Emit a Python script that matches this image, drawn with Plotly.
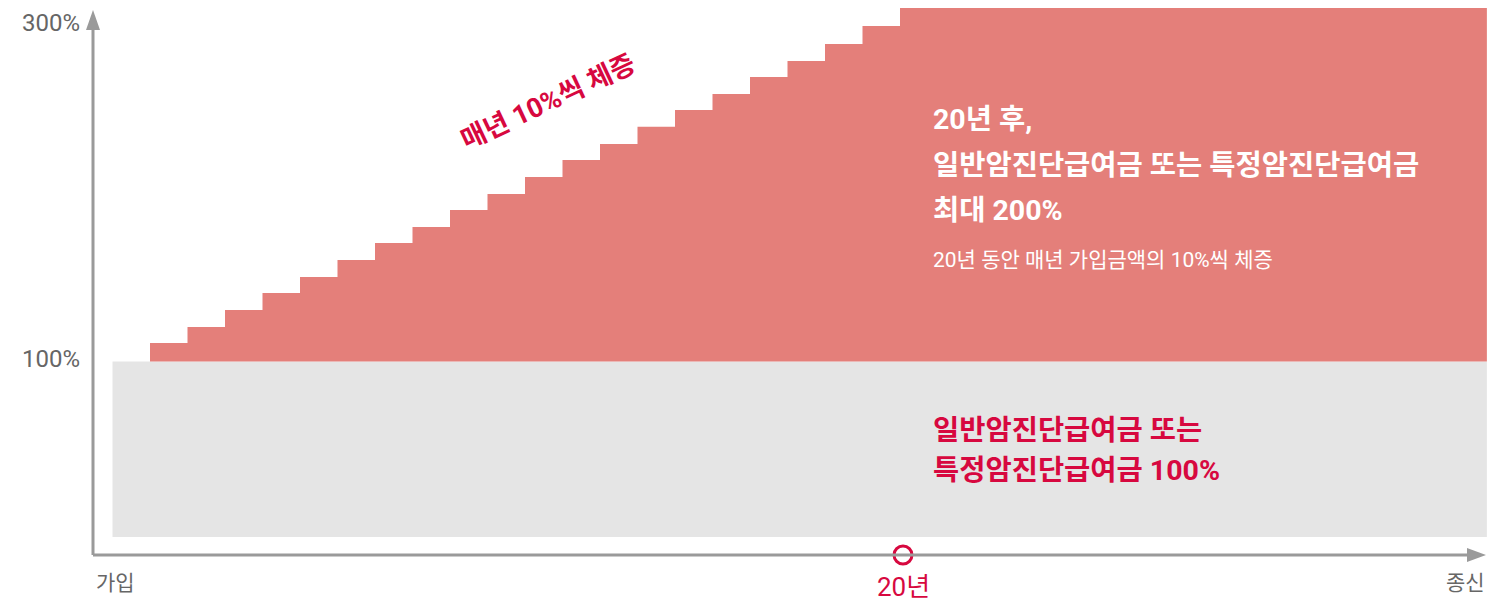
import plotly.graph_objects as go

# ---- data (x in years from first step, y in % of 가입금액) ----
step_years = list(range(0, 21))
step_values = [110.4, 119.4, 129.0, 138.5, 147.5, 157.1, 166.7, 175.7, 185.2, 194.2,
               203.8, 213.4, 222.4, 232.0, 241.5, 250.5, 260.1, 269.1, 278.6, 288.8, 300.0]
end_year = 35.65
start_year = -1.0
base_value = 100.0
gray_bottom = 1.3
milestone_year = 20.08
tick_values = [300, 100]
tick_labels = ["300%", "100%"]
x_labels = ["가입", "20년", "종신"]

# page body has an 8px default margin -> figure is 1495x596 placed at (8,8)
OFF = 8
W, H = 1503 - OFF, 604 - OFF
FONT = "Roboto, 'Noto Sans CJK KR'"
RED_FILL = "#E47F7A"
RED_TEXT = "#D7083F"
GRAY = "#E5E5E5"
AXIS = "#9A9A9A"

# pixel mapping helpers (page pixels) for layout
X0PX, XS = 150.0, 37.5
Y0PX, YS = 361.5, 1.7775
def tx(px):
    return (px - X0PX) / XS
def vy(py):
    return 100 + (Y0PX - py) / YS
def pxp(px):
    return (px - OFF) / W
def pyp(py):
    return 1 - (py - OFF) / H

fig = go.Figure()

# gray 100% block
fig.add_trace(go.Scatter(
    x=[start_year, end_year, end_year, start_year, start_year],
    y=[gray_bottom, gray_bottom, base_value, base_value, gray_bottom],
    fill="toself", fillcolor=GRAY, line=dict(width=0), mode="lines",
    hoverinfo="skip", showlegend=False))

# baseline for step fill
fig.add_trace(go.Scatter(
    x=[step_years[0], end_year], y=[base_value, base_value],
    mode="lines", line=dict(width=0, color=RED_FILL), hoverinfo="skip", showlegend=False))
# stepped increase
fig.add_trace(go.Scatter(
    x=step_years + [end_year], y=step_values + [step_values[-1]],
    mode="lines", line=dict(width=0, shape="hv", color=RED_FILL),
    fill="tonexty", fillcolor=RED_FILL, hoverinfo="skip", showlegend=False))

# axes lines
ax_x = tx(93)
ax_y = vy(555)
x_tip = tx(1486)
y_tip = vy(10)
head_len_x = 19 / XS
head_half_y = 7 / YS
head_len_y = 20 / YS
head_half_x = 7 / XS
shapes = [
    dict(type="line", x0=ax_x, y0=ax_y, x1=x_tip - head_len_x, y1=ax_y,
         line=dict(color=AXIS, width=3), layer="above"),
    dict(type="line", x0=ax_x, y0=ax_y, x1=ax_x, y1=y_tip - head_len_y,
         line=dict(color=AXIS, width=3), layer="above"),
    dict(type="path",
         path=f"M {x_tip - head_len_x} {ax_y - head_half_y} L {x_tip} {ax_y} L {x_tip - head_len_x} {ax_y + head_half_y} Z",
         fillcolor=AXIS, line=dict(width=0), layer="above"),
    dict(type="path",
         path=f"M {ax_x - head_half_x} {y_tip - head_len_y} L {ax_x} {y_tip} L {ax_x + head_half_x} {y_tip - head_len_y} Z",
         fillcolor=AXIS, line=dict(width=0), layer="above"),
]

# 20년 milestone marker
fig.add_trace(go.Scatter(
    x=[milestone_year], y=[ax_y], mode="markers",
    marker=dict(size=18, color="white", line=dict(color=RED_TEXT, width=3)),
    hoverinfo="skip", showlegend=False))

ann = []
# y tick labels
for v, lab in zip(tick_values, tick_labels):
    ann.append(dict(x=tx(81), y=(vy(22.5) if v == 300 else vy(359)), xref="x", yref="y",
                    text=lab, showarrow=False, xanchor="right", yanchor="middle",
                    borderpad=0,
                    font=dict(family=FONT, size=24, color="#666666")))
# x labels
ann.append(dict(x=pxp(115), y=pyp(583), xref="paper", yref="paper", text=x_labels[0],
                showarrow=False, xanchor="center", yanchor="middle",
                font=dict(family=FONT, size=21, color="#666666")))
ann.append(dict(x=milestone_year, y=pyp(587), xref="x", yref="paper", text=x_labels[1],
                showarrow=False, xanchor="center", yanchor="middle",
                font=dict(family=FONT, size=26, color=RED_TEXT)))
ann.append(dict(x=pxp(1465), y=pyp(583), xref="paper", yref="paper", text=x_labels[2],
                showarrow=False, xanchor="center", yanchor="middle",
                font=dict(family=FONT, size=21, color="#666666")))

# rotated annotation
ann.append(dict(x=pxp(548), y=pyp(102), xref="paper", yref="paper",
                text="<b>매년 10%씩 체증</b>", showarrow=False, textangle=-25,
                xanchor="center", yanchor="middle",
                font=dict(family=FONT, size=27, color=RED_TEXT)))

# white text on red area
for py, txt in [(120, "<b>20년 후,</b>"),
                (165, "<b>일반암진단급여금 또는 특정암진단급여금</b>"),
                (210, "<b>최대 200%</b>")]:
    ann.append(dict(x=pxp(931), y=pyp(py), xref="paper", yref="paper", text=txt,
                    showarrow=False, xanchor="left", yanchor="middle",
                    font=dict(family=FONT, size=28.5, color="white")))
ann.append(dict(x=pxp(931), y=pyp(260), xref="paper", yref="paper",
                text="20년 동안 매년 가입금액의 10%씩 체증", showarrow=False,
                xanchor="left", yanchor="middle",
                font=dict(family=FONT, size=21, color="white")))

# red text on gray area
for py, txt in [(430, "<b>일반암진단급여금 또는</b>"),
                (470, "<b>특정암진단급여금 100%</b>")]:
    ann.append(dict(x=pxp(931), y=pyp(py), xref="paper", yref="paper", text=txt,
                    showarrow=False, xanchor="left", yanchor="middle",
                    font=dict(family=FONT, size=28.5, color=RED_TEXT)))

fig.update_layout(
    width=W, height=H,
    margin=dict(l=0, r=0, t=0, b=0),
    paper_bgcolor="white", plot_bgcolor="white",
    xaxis=dict(range=[tx(OFF), tx(1503)], visible=False, fixedrange=True),
    yaxis=dict(range=[vy(604), vy(OFF)], visible=False, fixedrange=True),
    shapes=shapes, annotations=ann, showlegend=False, hovermode=False,
    font=dict(family=FONT),
)

fig.write_html("out.html")
